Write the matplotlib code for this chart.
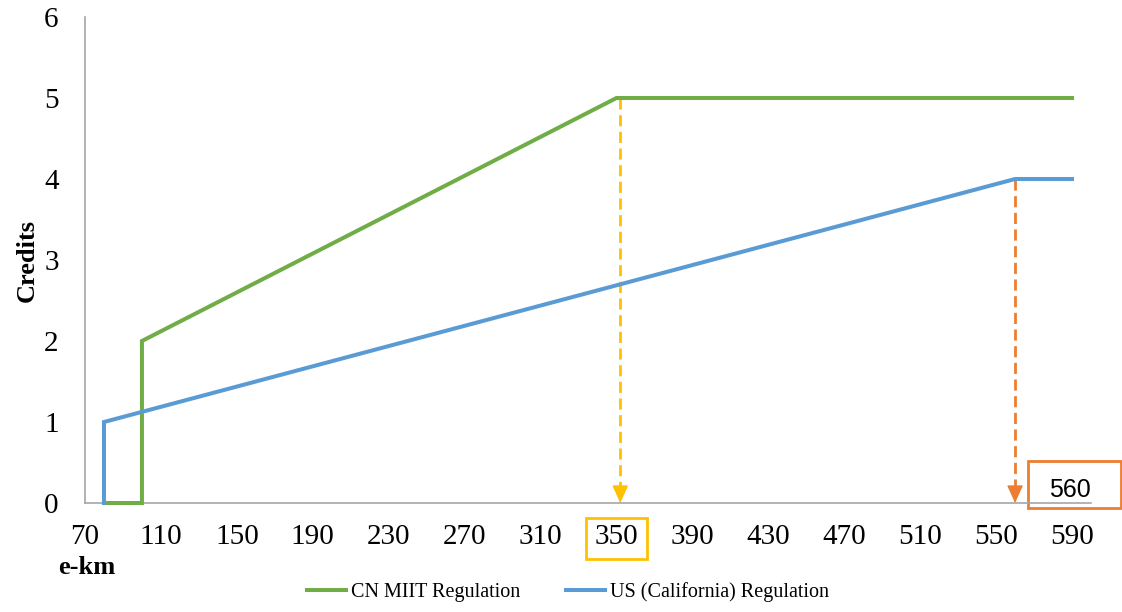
import matplotlib.pyplot as plt
from matplotlib.patches import Rectangle
import matplotlib.transforms as mtransforms

# dados
cn_km = [80, 100, 100, 350, 590]
cn_credits = [0, 0, 2, 5, 5]
us_km = [80, 80, 560, 590]
us_credits = [0, 1, 4, 4]
x_ticks = [70, 110, 150, 190, 230, 270, 310, 350, 390, 430, 470, 510, 550, 590]
y_ticks = [0, 1, 2, 3, 4, 5, 6]
cn_cap_km = 350
us_cap_km = 560

green = '#70AD47'
blue = '#5B9BD5'
yellow = '#FFC000'
orange = '#ED7D31'

plt.rcParams['font.family'] = 'Liberation Serif'

fig = plt.figure(figsize=(11.22, 6.12), dpi=100)
ax = fig.add_axes([85 / 1122, 1 - 503 / 612, (1091 - 85) / 1122, (503 - 17) / 612])

ax.plot(cn_km, cn_credits, color=green, lw=2.9, label='CN MIIT Regulation',
        solid_joinstyle='miter', zorder=3, clip_on=False)
ax.plot(us_km, us_credits, color=blue, lw=2.9, label='US (California) Regulation',
        solid_joinstyle='miter', zorder=3, clip_on=False)

ax.set_xlim(70, 600)
ax.set_ylim(0, 6)
ax.set_xticks(x_ticks)
ax.set_yticks(y_ticks)
ax.tick_params(axis='x', length=0, pad=15, labelsize=21)
ax.tick_params(axis='y', length=0, pad=19, labelsize=21)
for s in ['top', 'right']:
    ax.spines[s].set_visible(False)
for s in ['left', 'bottom']:
    ax.spines[s].set_color('#A6A6A6')
    ax.spines[s].set_linewidth(1.2)

ax.set_ylabel('Credits', fontsize=19, fontweight='bold')
ax.yaxis.set_label_coords(-0.046, 0.5)
fig.text(58 / 1122, 1 - 568 / 612, 'e-km', fontsize=19, fontweight='bold', va='center', ha='left')

# setas tracejadas
for x, top, c in [(cn_cap_km + 2, 5, yellow), (us_cap_km, 4, orange)]:
    ax.plot([x, x], [top, 0.1], color=c, lw=2, ls=(0, (4, 2)))
    ax.annotate('', xy=(x, 0), xytext=(x, 0.2),
                arrowprops=dict(arrowstyle='-|>,head_length=1.1,head_width=0.5', color=c,
                                lw=1, shrinkA=0, shrinkB=0))

trans = mtransforms.blended_transform_factory(ax.transData, ax.transAxes)
ax.add_patch(Rectangle((cn_cap_km - 16, -0.115), 32, 0.084, transform=trans, fill=False,
                       edgecolor=yellow, lw=2, clip_on=False))
ax.add_patch(Rectangle((567, -0.010), 49, 0.096, transform=trans, fill=False,
                       edgecolor=orange, lw=2, clip_on=False))
ax.text(589, 0.027, str(us_cap_km), transform=trans, ha='center', va='center',
        fontsize=18, family='Liberation Sans', clip_on=False)

fig.legend(loc='center', bbox_to_anchor=(568 / 1122, 1 - 592 / 612), ncol=2, frameon=False,
           fontsize=14.5, handlelength=1.9, columnspacing=2.3, handletextpad=0.25)

fig.savefig('out.png', dpi=100)
